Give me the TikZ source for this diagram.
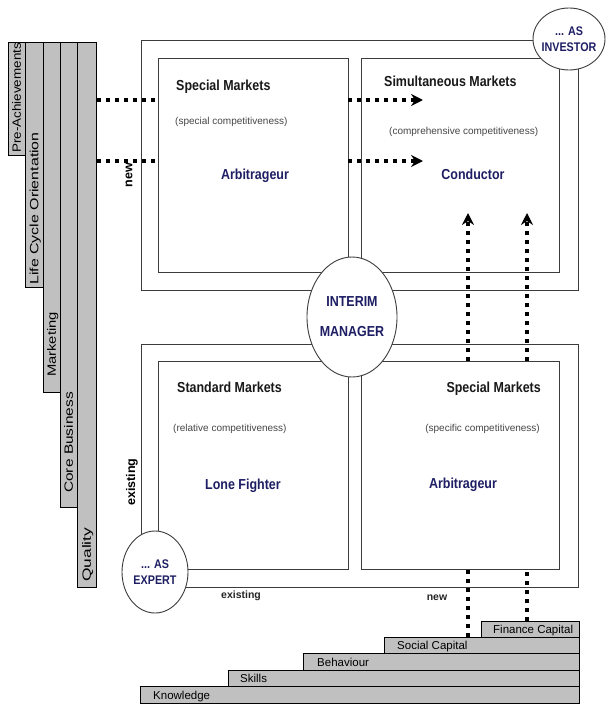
\documentclass[tikz,border=0pt]{standalone}
\usepackage{fontspec}
\setmainfont{Liberation Sans}
\usepackage{graphicx}
\usetikzlibrary{shapes.geometric,arrows.meta,calc}
\definecolor{barg}{RGB}{192,192,192}
\definecolor{navy}{RGB}{30,30,100}
\definecolor{linec}{RGB}{60,60,60}
\definecolor{txt}{RGB}{25,25,25}
\definecolor{smallc}{RGB}{70,70,70}
\newcommand\cnd[1]{\scalebox{0.86}[1]{#1}}
\begin{document}
\begin{tikzpicture}[x=1pt,y=-1pt,
  bar/.style={draw=black, line width=0.9pt, fill=barg, anchor=north west, inner sep=0pt, outer sep=0pt},
  box/.style={draw=linec, line width=0.9pt, fill=white, anchor=north west, inner sep=0pt, outer sep=0pt},
  ell/.style={ellipse, draw=linec, line width=0.9pt, fill=white, inner sep=0pt, outer sep=0pt},
  ellt/.style={font=\fontsize{12.5}{16}\selectfont\bfseries, text=navy, align=center, inner sep=0pt},
  vlab/.style={rotate=90, anchor=base west, inner sep=0pt, font=\fontsize{12}{14}\selectfont, text=black},
  slab/.style={anchor=base west, inner sep=0pt, font=\fontsize{11.5}{13}\selectfont, text=black},
  hd/.style={inner sep=0pt, font=\fontsize{14.5}{17}\selectfont\bfseries, text=txt},
  nm/.style={inner sep=0pt, anchor=base, font=\fontsize{14.5}{17}\selectfont\bfseries, text=navy},
  sm/.style={inner sep=0pt, font=\fontsize{10}{12}\selectfont, text=smallc},
  ax/.style={inner sep=0pt, font=\fontsize{12.5}{14}\selectfont\bfseries, text=black},
  axb/.style={inner sep=0pt, anchor=base, font=\fontsize{10.5}{12}\selectfont\bfseries, text=black!85},
  dots/.style={line width=4pt, dash pattern=on 4pt off 5pt, draw=black},
  tip/.style={-{Stealth[length=12pt,width=12pt,inset=4pt]}}
]
\fill[white] (0,0) rectangle (609,704);
\useasboundingbox (0,0) rectangle (609,704);

% vertical bars
\node[bar, minimum width=17pt, minimum height=113pt] (pa) at (8,42) {};
\node[bar, minimum width=18pt, minimum height=245pt] (lc) at (25,42) {};
\node[bar, minimum width=17pt, minimum height=350pt] (mk) at (43,42) {};
\node[bar, minimum width=17pt, minimum height=465pt] (cb) at (60,42) {};
\node[bar, minimum width=19pt, minimum height=545pt] (ql) at (77,42) {};
\node[vlab] (pat) at (20.8,153) {\scalebox{1.12}[1]{Pre-Achievements}};
\node[vlab] (lct) at (38.3,285) {\scalebox{1.33}[1]{Life Cycle Orientation}};
\node[vlab] (mkt) at (55.8,377) {\scalebox{1.23}[1]{Marketing}};
\node[vlab] (cbt) at (72.8,493) {\scalebox{1.29}[1]{Core Business}};
\node[vlab] (qlt) at (90.8,582) {\scalebox{1.45}[1]{Quality}};

% steps
\node[bar, minimum width=439pt, minimum height=17pt] (kn) at (140,686) {};
\node[bar, minimum width=351pt, minimum height=16pt] (sk) at (228,670) {};
\node[bar, minimum width=276pt, minimum height=17pt] (bh) at (303,653) {};
\node[bar, minimum width=195pt, minimum height=16pt] (so) at (384,637) {};
\node[bar, minimum width=98pt, minimum height=16pt] (fi) at (481,621) {};
\node[slab] (knt) at ($(kn.south west)+(13,-4)$) {Knowledge};
\node[slab] (skt) at ($(sk.south west)+(12,-4)$) {Skills};
\node[slab] (bht) at ($(bh.south west)+(14,-4)$) {Behaviour};
\node[slab] (sot) at ($(so.south west)+(13,-4)$) {Social Capital};
\node[slab] (fit) at ($(fi.south west)+(12,-4)$) {Finance Capital};

% boxes
\node[box, minimum width=437pt, minimum height=250pt] (uo) at (141,40) {};
\node[box, minimum width=190pt, minimum height=214pt] (ul) at (158,58) {};
\node[box, minimum width=198pt, minimum height=214pt] (ur) at (361,58) {};
\node[box, minimum width=437pt, minimum height=243pt] (lo) at (141,344) {};
\node[box, minimum width=190pt, minimum height=208pt] (ll) at (158,361) {};
\node[box, minimum width=198pt, minimum height=208pt] (lr) at (361,361) {};

% dotted connectors
\coordinate (h1s) at (97,100);
\coordinate (h1e) at (423,100);
\coordinate (h2s) at (97,161);
\coordinate (h2e) at (423,161);
\coordinate (v1t) at (468,213);
\coordinate (v2t) at (527,213);
\coordinate (v2b) at (527,572);
\draw[dots] (h1s) -- (h1s -| ul.west);
\draw[dots, tip] (h1s -| ul.east) -- (h1e);
\draw[dots] (h2s) -- (h2s -| ul.west);
\draw[dots, tip] (h2s -| ul.east) -- (h2e);
\draw[dots, tip] (v1t |- lr.north) -- (v1t);
\draw[dots, tip] (v2t |- lr.north) -- (v2t);
\draw[dots] (v1t |- so.north) -- (v1t |- lr.south);
\draw[dots] (v2t |- fi.north) -- (v2b);

% ellipses
\node[ell, minimum width=72pt, minimum height=62pt] (inv) at (569,39) {};
\node[ellt] (invt) at (inv.center) {\cnd{... AS}\\\cnd{INVESTOR}};
\node[ell, minimum width=90pt, minimum height=120pt] (im) at (352,317) {};
\node[ellt, font=\fontsize{14.5}{30}\selectfont\bfseries] (imt) at (im.center) {\cnd{INTERIM}\\\cnd{MANAGER}};
\node[ell, minimum width=66pt, minimum height=82pt] (ex) at (155,572) {};
\node[ellt] (ext) at (ex.center) {\cnd{... AS}\\\cnd{EXPERT}};

% texts in boxes
\node[hd, anchor=base west] (ulh) at (176,90) {\cnd{Special Markets}};
\node[sm, anchor=base west] (uls) at (175,124) {(special competitiveness)};
\node[nm] (uln) at (255,179) {\cnd{Arbitrageur}};
\node[hd, anchor=base west] (urh) at (384,86) {\cnd{Simultaneous Markets}};
\node[sm, anchor=base west] (urs) at (389,134) {(comprehensive competitiveness)};
\node[nm] (urn) at (473,179) {\cnd{Conductor}};
\node[hd, anchor=base west] (llh) at (177,392) {\cnd{Standard Markets}};
\node[sm, anchor=base west] (lls) at (173,431) {(relative competitiveness)};
\node[nm] (lln) at (243,489) {\cnd{Lone Fighter}};
\node[hd, anchor=base east] (lrh) at (541,392) {\cnd{Special Markets}};
\node[sm, anchor=base east] (lrs) at (540,431) {(specific competitiveness)};
\node[nm] (lrn) at (463,488) {\cnd{Arbitrageur}};

% axis labels
\node[ax, rotate=90] (newl) at (129,175) {new};
\node[ax, rotate=90] (exl) at (132,482) {existing};
\node[axb] (exb) at (241,598) {existing};
\node[axb] (newb) at (437,600) {new};
\end{tikzpicture}
\end{document}
